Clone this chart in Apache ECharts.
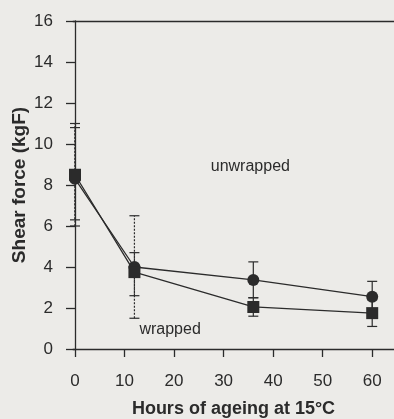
<!DOCTYPE html>
<html>
<head>
<meta charset="utf-8">
<script src="https://cdn.jsdelivr.net/npm/echarts@6/dist/echarts.min.js"></script>
<style>
  html, body { margin: 0; padding: 0; background: #ecebe8; }
  #chart { width: 394px; height: 419px; }
</style>
</head>
<body>
<div id="chart"></div>
<script>
// hours of ageing
const hours = [0, 12, 36, 60]
// shear force (kgF)
const unwrapped = [8.3, 4.0, 3.37, 2.55]
const wrapped = [8.5, 3.75, 2.05, 1.75]
// error bars [low, high]
const unwrappedErr = [[6.3, 10.8], [1.5, 6.5], [2.5, 4.25], [1.8, 3.3]]
const wrappedErr = [[6.0, 11.0], [2.6, 4.7], [1.6, 2.5], [1.1, 2.4]]
const xTicks = [0, 10, 20, 30, 40, 50, 60]
const yTicks = [0, 2, 4, 6, 8, 10, 12, 14, 16]

const ink = '#2b2b2b'
const font = 'Liberation Sans'
const myChart = echarts.init(document.getElementById('chart'))

const errSeries = (errs, dotted) => ({
  type: 'custom',
  z: 1,
  data: errs.map((e, i) => [hours[i], e[0], e[1]]),
  renderItem: (params, api) => {
    const lo = api.coord([api.value(0), api.value(1)])
    const hi = api.coord([api.value(0), api.value(2)])
    const dash = dotted[params.dataIndex] ? [2, 1.5] : null
    const cap = { stroke: ink, lineWidth: 1.2 }
    return {
      type: 'group',
      children: [
        { type: 'line', shape: { x1: lo[0], y1: lo[1], x2: hi[0], y2: hi[1] }, style: { stroke: ink, lineWidth: 1.2, lineDash: dash } },
        { type: 'line', shape: { x1: lo[0] - 5, y1: lo[1], x2: lo[0] + 5, y2: lo[1] }, style: cap },
        { type: 'line', shape: { x1: hi[0] - 5, y1: hi[1], x2: hi[0] + 5, y2: hi[1] }, style: cap }
      ]
    }
  }
})

const textMark = (coord, text) => ({
  symbol: 'circle',
  symbolSize: 1,
  itemStyle: { color: 'rgba(0,0,0,0)' },
  data: [{ coord: coord }],
  label: { show: true, position: 'inside', formatter: text, color: ink, fontSize: 16, fontFamily: font }
})

const option = {
  backgroundColor: '#ecebe8',
  animation: false,
  grid: { left: 73, right: 0, top: 21, bottom: 70, outerBoundsMode: 'none', containLabel: false },
  xAxis: [
    {
      type: 'value',
      min: -0.4,
      max: 64.4,
      interval: 10,
      name: 'Hours of ageing at 15°C',
      nameLocation: 'middle',
      nameGap: 51,
      nameMoveOverlap: false,
      nameTextStyle: { color: ink, fontSize: 18, fontWeight: 'bold', fontFamily: font },
      axisLine: { show: true, onZero: false, lineStyle: { color: ink, width: 1.3 } },
      axisTick: { show: true, length: 8, lineStyle: { color: ink, width: 1.3 }, customValues: xTicks },
      axisLabel: { color: ink, fontSize: 17, margin: 24, fontFamily: font, customValues: xTicks },
      splitLine: { show: false }
    },
    {
      type: 'value',
      position: 'top',
      min: -0.4,
      max: 64.4,
      axisLine: { show: true, onZero: false, lineStyle: { color: ink, width: 1.3 } },
      axisTick: { show: false },
      axisLabel: { show: false },
      splitLine: { show: false }
    }
  ],
  yAxis: {
    type: 'value',
    min: 0,
    max: 16,
    interval: 2,
    name: 'Shear force (kgF)',
    nameLocation: 'middle',
    nameGap: 44,
    nameMoveOverlap: false,
    nameTextStyle: { color: ink, fontSize: 19, fontWeight: 'bold', fontFamily: font },
    axisLine: { show: true, lineStyle: { color: ink, width: 1.3 } },
    axisTick: { show: true, length: 9, lineStyle: { color: ink, width: 1.3 }, customValues: yTicks },
    axisLabel: { color: ink, fontSize: 17, margin: 20, fontFamily: font, customValues: yTicks },
    splitLine: { show: false }
  },
  series: [
    errSeries(unwrappedErr, [true, true, false, false]),
    errSeries(wrappedErr, [true, true, false, false]),
    {
      name: 'unwrapped',
      type: 'line',
      z: 3,
      data: hours.map((h, i) => [h, unwrapped[i]]),
      symbol: 'circle',
      symbolSize: 12,
      itemStyle: { color: ink },
      lineStyle: { color: ink, width: 1.3 },
      markPoint: textMark([35.4, 8.9], 'unwrapped')
    },
    {
      name: 'wrapped',
      type: 'line',
      z: 3,
      data: hours.map((h, i) => [h, wrapped[i]]),
      symbol: 'rect',
      symbolSize: 12,
      itemStyle: { color: ink },
      lineStyle: { color: ink, width: 1.3 },
      markPoint: textMark([19.2, 0.93], 'wrapped')
    }
  ]
}
myChart.setOption(option)
</script>
</body>
</html>
